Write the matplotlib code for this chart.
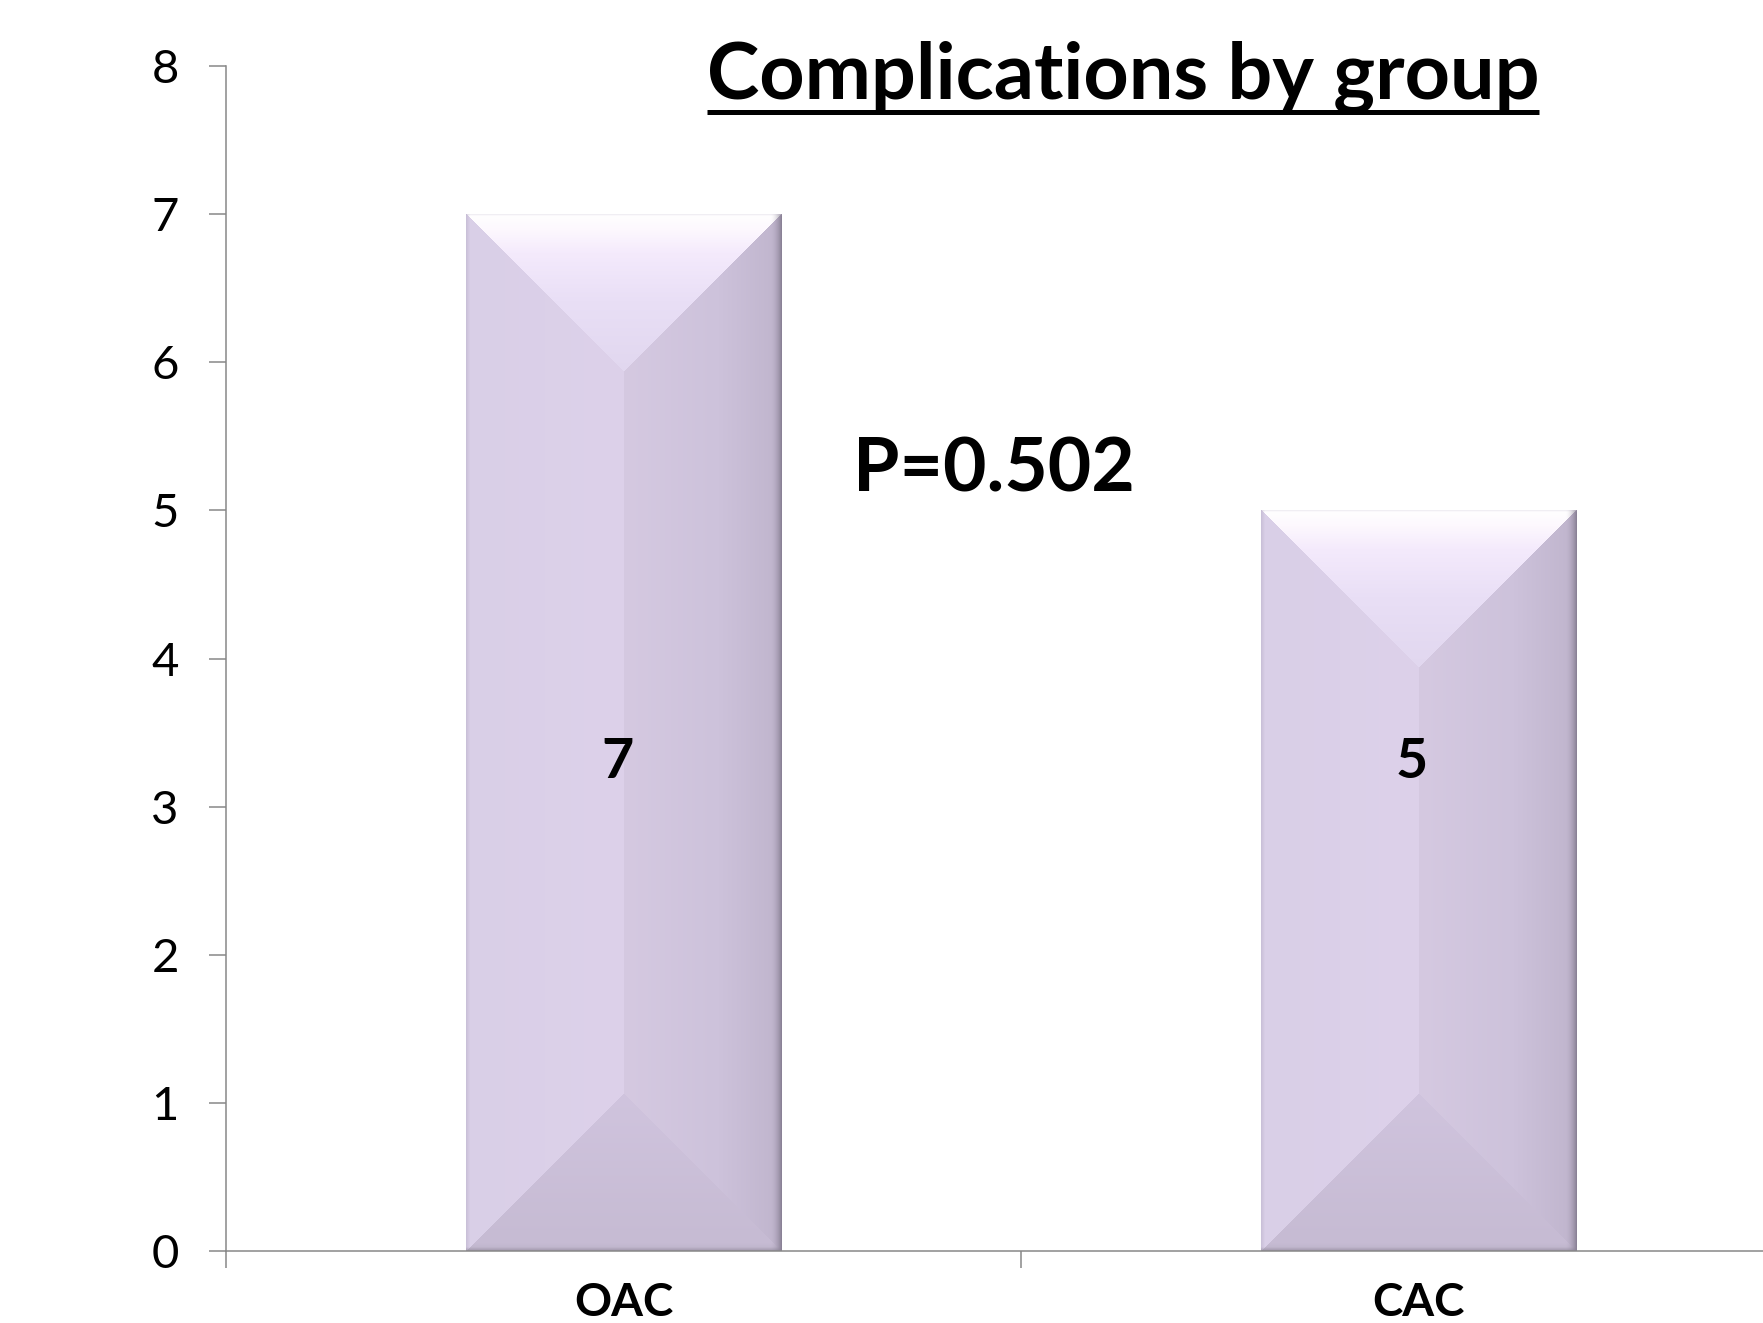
import numpy as np
import matplotlib
matplotlib.use('Agg')
import matplotlib.pyplot as plt
from matplotlib.lines import Line2D

# 数据
groups = ['OAC', 'CAC']
counts = [7, 5]
p_text = 'P=0.502'
title = 'Complications by group'

plt.rcParams['font.family'] = ['Lato', 'DejaVu Sans']

W, H, DPI = 1763, 1323, 100
fig = plt.figure(figsize=(W / DPI, H / DPI), dpi=DPI)
ax = fig.add_axes([226 / W, 72 / H, 1590 / W, 1185 / H])

ax.set_xlim(0, 2)
ax.set_ylim(0, 8)
ax.set_yticks(range(0, 9))
ax.tick_params(axis='y', labelsize=34, length=12, width=1.1, color='#878787', pad=22)

# 分类边界刻度 + 居中的分类标签
ax.set_xticks([0, 1, 2])
ax.set_xticklabels([])
ax.tick_params(axis='x', which='major', length=12, width=1.1, color='#878787')
centers = np.arange(len(groups)) + 0.5
ax.set_xticks(centers, minor=True)
ax.set_xticklabels(groups, minor=True, fontsize=33, fontweight='bold')
ax.tick_params(axis='x', which='minor', length=0, pad=22)

for s in ['top', 'right']:
    ax.spines[s].set_visible(False)
for s in ['left', 'bottom']:
    ax.spines[s].set_color('#878787')
    ax.spines[s].set_linewidth(1.1)

bars = ax.bar(centers, counts, width=0.397, color='none', edgecolor='none', zorder=2)


def hex2rgb(h):
    h = h.lstrip('#')
    return np.array([int(h[i:i + 2], 16) for i in (0, 2, 4)]) / 255.0


def lerp_cols(t, stops):
    # stops: [(pos, hex), ...]
    pos = np.array([s[0] for s in stops])
    cols = np.array([hex2rgb(s[1]) for s in stops])
    return np.stack([np.interp(t, pos, cols[:, k]) for k in range(3)], axis=-1)


def bevel_image(w, h):
    xx, yy = np.meshgrid(np.arange(w) + 0.5, np.arange(h) + 0.5)
    u = xx / w
    left = lerp_cols(u, [(0, '#D9CFE7'), (0.5, '#DDD1EA')])
    right = lerp_cols(u, [(0.5, '#D5C9E1'), (0.8, '#CDC2DB'), (1, '#BFB4CC')])
    img = np.where((u < 0.5)[..., None], left, right)

    top = (yy < xx) & (yy < w - xx)
    bot = ((h - yy) < xx) & ((h - yy) < w - xx)
    d = w / 2.0
    tcol = lerp_cols(yy / d, [(0, '#FFFFFF'), (0.1, '#FDF8FE'), (0.25, '#F4EAFC'),
                              (0.55, '#E9DFF6'), (1, '#E1D7EF')])
    bcol = lerp_cols((h - yy) / d, [(0, '#BCB2C8'), (0.05, '#C6BBD3'), (1, '#D0C4DE')])
    img = np.where(top[..., None], tcol, img)
    img = np.where(bot[..., None], bcol, img)

    # 右侧阴影、左侧细边、底边
    dark = hex2rgb('#6E6679')
    r = np.clip((xx - (w - 12)) / 12, 0, 1) ** 2
    img = img * (1 - 0.7 * r[..., None]) + dark * 0.7 * r[..., None]
    l = np.clip(1 - xx / 4, 0, 1)
    img = img * (1 - 0.35 * l[..., None]) + hex2rgb('#A79EB6') * 0.35 * l[..., None]
    b = np.clip(1 - (h - yy) / 4, 0, 1)
    img = img * (1 - 0.6 * b[..., None]) + hex2rgb('#8C8497') * 0.6 * b[..., None]
    t = np.clip(1 - yy / 2, 0, 1)
    img = img * (1 - 0.3 * t[..., None]) + hex2rgb('#BFB5CD') * 0.3 * t[..., None]
    return np.clip(img, 0, 1)


for bar, c in zip(bars, counts):
    x0, y0 = bar.get_x(), bar.get_y()
    x1, y1 = x0 + bar.get_width(), y0 + bar.get_height()
    p0 = ax.transData.transform((x0, y0))
    p1 = ax.transData.transform((x1, y1))
    pw, ph = int(round(p1[0] - p0[0])), int(round(p1[1] - p0[1]))
    img = bevel_image(pw, ph)
    ax.imshow(img, extent=(x0, x1, y0, y1), aspect='auto', interpolation='bilinear',
              zorder=2, origin='upper')
    ax.text(x0 + bar.get_width() / 2 - 0.008, 3.19, str(c), ha='center', va='baseline',
            fontsize=40, fontweight='bold', zorder=3)

ax.set_xlim(0, 2)
ax.set_ylim(0, 8)

fig.text(994 / W, 1 - 492 / H, p_text, ha='center', va='baseline',
         fontsize=54, fontweight='bold')

t = fig.text(1123 / W, 1 - 99 / H, title, ha='center', va='baseline',
             fontsize=57, fontweight='bold')

# 标题下划线
fig.canvas.draw()
bb = t.get_window_extent()
uy = (H - 111.5) / H
fig.add_artist(Line2D([bb.x0 / W, bb.x1 / W], [uy, uy], transform=fig.transFigure,
                      color='black', lw=3.6, solid_capstyle='butt'))

fig.savefig('out.png', dpi=DPI)
